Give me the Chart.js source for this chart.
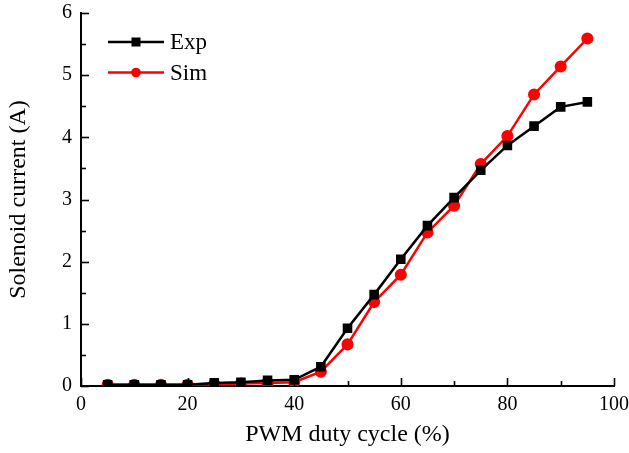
<!DOCTYPE html>
<html>
<head>
<meta charset="utf-8">
<script src="https://cdn.jsdelivr.net/npm/chart.js@4"></script>
<style>
  html, body { margin: 0; padding: 0; background: #fff; }
  #wrap { width: 629px; height: 453px; }
</style>
</head>
<body>
<div id="wrap"><canvas id="myChart" width="629" height="453"></canvas></div>
<script>
const duty = [5, 10, 15, 20, 25, 30, 35, 40, 45, 50, 55, 60, 65, 70, 75, 80, 85, 90, 95]
const expCurrent = [0.02, 0.02, 0.02, 0.02, 0.05, 0.06, 0.09, 0.10, 0.31, 0.93, 1.47, 2.04, 2.58, 3.03, 3.47, 3.87, 4.18, 4.49, 4.57]
const simCurrent = [0.02, 0.02, 0.02, 0.02, 0.03, 0.04, 0.05, 0.06, 0.23, 0.67, 1.35, 1.79, 2.47, 2.90, 3.57, 4.02, 4.69, 5.14, 5.59]
const xTicks = [0, 20, 40, 60, 80, 100]
const yTicks = [0, 1, 2, 3, 4, 5, 6]

const font = "'Liberation Serif', 'Times New Roman', serif"

function pts(vals) {
  return duty.map((d, i) => ({ x: d, y: vals[i] }))
}

// ticks pointing inward, major + minor
const innerTicks = {
  id: 'innerTicks',
  afterDraw(chart) {
    const c = chart.ctx
    const xs = chart.scales.x
    const ys = chart.scales.y
    const left = xs.left, bottom = ys.bottom
    c.save()
    c.strokeStyle = '#000'
    c.lineWidth = 1.6
    for (let v = 0; v <= 100; v += 10) {
      const px = Math.round(xs.getPixelForValue(v)) + 0.5
      const len = v % 20 === 0 ? 8 : 5
      c.beginPath(); c.moveTo(px, bottom); c.lineTo(px, bottom - len); c.stroke()
    }
    for (let v = 0; v <= 6; v += 0.5) {
      const py = Math.round(ys.getPixelForValue(v)) + 0.5
      const len = v % 1 === 0 ? 8 : 5
      c.beginPath(); c.moveTo(left, py); c.lineTo(left + len, py); c.stroke()
    }
    c.restore()
  }
}

// legend in top left of plot
const legendBox = {
  id: 'legendBox',
  afterDraw(chart) {
    const c = chart.ctx
    c.save()
    chart.data.datasets.forEach((ds, i) => {
      const y = 42 + i * 30.5
      c.strokeStyle = ds.borderColor
      c.lineWidth = 2.5
      c.beginPath(); c.moveTo(108, y); c.lineTo(164, y); c.stroke()
      c.fillStyle = ds.pointBackgroundColor
      if (ds.pointStyle === 'rect') {
        c.fillRect(136 - 4.5, y - 4.5, 9, 9)
      } else {
        c.beginPath(); c.arc(136, y, 4.8, 0, Math.PI * 2); c.fill()
      }
      c.fillStyle = '#000'
      c.font = `23px ${font}`
      c.textBaseline = 'middle'
      c.fillText(ds.label, 170, y + 1)
    })
    c.restore()
  }
}

new Chart(document.getElementById('myChart'), {
  type: 'line',
  data: {
    datasets: [
      {
        label: 'Exp',
        data: pts(expCurrent),
        borderColor: '#000',
        backgroundColor: '#000',
        pointBackgroundColor: '#000',
        pointBorderColor: '#000',
        pointStyle: 'rect',
        pointRadius: 5,
        borderWidth: 2.5,
        tension: 0
      },
      {
        label: 'Sim',
        data: pts(simCurrent),
        borderColor: '#ff0000',
        backgroundColor: '#ff0000',
        pointBackgroundColor: '#ff0000',
        pointBorderColor: '#ff0000',
        pointStyle: 'circle',
        pointRadius: 4.8,
        borderWidth: 2.5,
        tension: 0
      }
    ]
  },
  options: {
    responsive: false,
    animation: false,
    layout: { padding: { top: 13, right: 15, left: 0, bottom: 0 } },
    plugins: { legend: { display: false }, tooltip: { enabled: false } },
    scales: {
      x: {
        type: 'linear',
        min: 0, max: 100,
        afterBuildTicks: (s) => { s.ticks = xTicks.map(v => ({ value: v })) },
        afterFit: (s) => { s.height = 67; s.paddingRight = 0; s.paddingLeft = 0 },
        grid: { display: false, drawTicks: false },
        border: { display: true, color: '#000', width: 2 },
        ticks: { color: '#000', padding: 7, font: { family: font, size: 20 }, maxRotation: 0 },
        title: { display: true, text: 'PWM duty cycle (%)', color: '#000', font: { family: font, size: 24 }, padding: { top: 2 } }
      },
      y: {
        min: 0, max: 6,
        afterBuildTicks: (s) => { s.ticks = yTicks.map(v => ({ value: v })) },
        afterFit: (s) => { s.width = 81; s.paddingTop = 0; s.paddingBottom = 0 },
        grid: { display: false, drawTicks: false },
        border: { display: true, color: '#000', width: 2 },
        ticks: { color: '#000', padding: 9, font: { family: font, size: 20 } },
        title: { display: true, text: 'Solenoid current (A)', color: '#000', font: { family: font, size: 24 }, padding: { bottom: 4 } }
      }
    }
  },
  plugins: [innerTicks, legendBox]
})
</script>
</body>
</html>
